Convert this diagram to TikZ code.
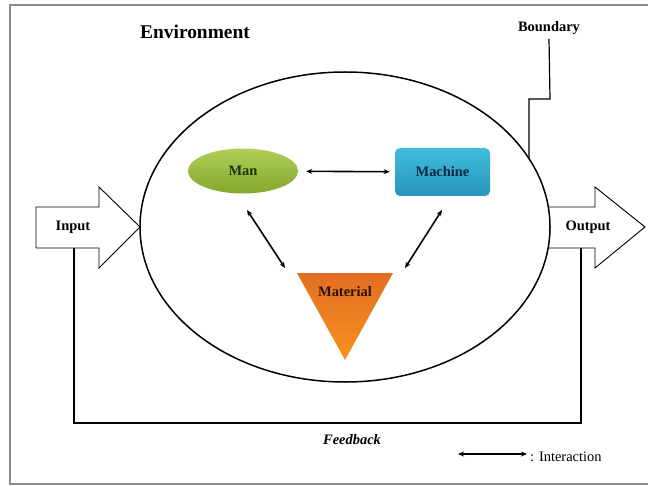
\documentclass[tikz,border=0pt]{standalone}
\usepackage{fontspec}
\setmainfont{Liberation Serif}
\usetikzlibrary{arrows.meta,shapes.geometric}
\definecolor{frameGray}{HTML}{8C8C8C}
\definecolor{manTop}{HTML}{B0CE55}
\definecolor{manBot}{HTML}{84A72E}
\definecolor{manText}{HTML}{1C3208}
\definecolor{macTop}{HTML}{40BDE0}
\definecolor{macBot}{HTML}{2794BD}
\definecolor{macText}{HTML}{0B2A3E}
\definecolor{matTop}{HTML}{E26E22}
\definecolor{matBot}{HTML}{F7921F}
\definecolor{matText}{HTML}{2A1405}
\begin{document}
\begin{tikzpicture}[x=1bp,y=-1bp,
  lbl/.style={font=\fontsize{14.5}{16}\selectfont\bfseries, text=black, inner sep=0pt},
  biglbl/.style={font=\fontsize{19.5}{21}\selectfont\bfseries, inner sep=0pt},
  link/.style={line width=1.6bp, {Stealth[length=6bp,width=5bp]}-{Stealth[length=6bp,width=5bp]}},
  bigarrow/.style={draw=black, line width=0.9bp, fill=white, line join=miter},
  wire/.style={draw=black, line width=1.4bp}]
\useasboundingbox (0,0) rectangle (648,486);
\fill[white] (0,0) rectangle (648,486);

% outer frame
\draw[frameGray, line width=1.6bp] (10,5) rectangle (660,484);

% input and output block arrows
\draw[bigarrow] (36,207) -- (99,207) -- (99,187) -- (140,227) -- (99,268) -- (99,248) -- (36,248) -- cycle;
\draw[bigarrow] (546,207) -- (595,207) -- (595,187) -- (645,227) -- (595,268) -- (595,248) -- (546,248) -- cycle;
\node[lbl] (input) at (73,227) {Input};
\node[lbl] (output) at (588,227) {Output};

% system boundary
\node[draw=black, line width=1.5bp, fill=white, ellipse, minimum width=410bp, minimum height=310bp, inner sep=0pt] (sys) at (345,227) {};

% feedback loop
\coordinate (fbIn) at (74,248);
\coordinate (fbOut) at (581,248);
\draw[wire] (fbOut) -- (581,423) -- (74,423) -- (fbIn);
\node[font=\fontsize{14.5}{16}\selectfont\bfseries\itshape, inner sep=0pt] (feedback) at (352,440) {Feedback};

% titles
\node[biglbl] (env) at (195,32) {Environment};
\node[lbl, font=\fontsize{14.5}{16}\selectfont\bfseries] (bnd) at (549,28) {Boundary};
\coordinate (bndTouch) at (529,159);
\draw[wire, line width=1.2bp] (bnd.south) ++(0,4) -- (550,99) -- (529,99) -- (bndTouch);

% the three elements
\node[ellipse, minimum width=110bp, minimum height=45bp, top color=manTop, bottom color=manBot, lbl, text=manText] (man) at (243,171) {Man};
\node[rectangle, rounded corners=5bp, minimum width=95bp, minimum height=48bp, top color=macTop, bottom color=macBot, lbl, text=macText] (machine) at (442.5,172) {Machine};
\shade[top color=matTop, bottom color=matBot] (297,273) -- (393,273) -- (345,360) -- cycle;
\node[lbl, text=matText] (material) at (345,292) {Material};

% interactions
\coordinate (manLow) at (247,210);
\coordinate (macLow) at (442,210);
\coordinate (matL) at (285,268);
\coordinate (matR) at (405,268);
\draw[link, shorten <=8bp, shorten >=5bp] (man) -- (machine);
\draw[link] (manLow) -- (matL);
\draw[link] (macLow) -- (matR);

% legend
\coordinate (legA) at (458,454);
\coordinate (legB) at (527,454);
\draw[link, line width=1.9bp] (legA) -- (legB);
\node[anchor=west, font=\fontsize{14.5}{16}\selectfont, inner sep=0pt] (legtext) at (530,457) {: Interaction};
\end{tikzpicture}
\end{document}
